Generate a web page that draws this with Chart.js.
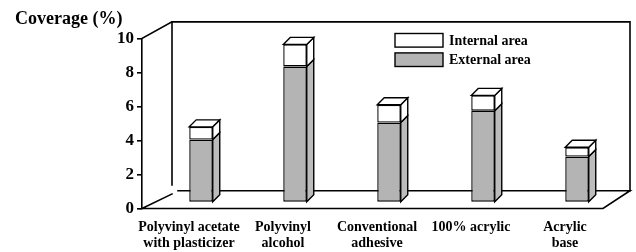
<!DOCTYPE html>
<html><head><meta charset="utf-8">
<style>html,body{margin:0;padding:0;background:#fff}#wrap{width:636px;height:252px;position:relative}</style>
<script src="https://cdn.jsdelivr.net/npm/chart.js@4.4.1/dist/chart.umd.min.js"></script>
</head><body><div id="wrap"><canvas id="c"></canvas></div>
<script>
const categories = [["Polyvinyl acetate","with plasticizer"],["Polyvinyl","alcohol"],["Conventional","adhesive"],["100% acrylic"],["Acrylic","base"]];
const externalArea = [3.7, 8.0, 4.7, 5.4, 2.7];
const internalArea = [0.75, 1.3, 1.05, 0.9, 0.55];
const yTicks = [0, 2, 4, 6, 8, 10];
const seriesNames = ["External area", "Internal area"];

const SERIF = "'Liberation Serif','DejaVu Serif',serif";
const GRAY = '#b4b4b4', GRAY_SIDE = '#bcbcbc', WHITE = '#ffffff';
const DX = 12, DY = -6, D = 7;

Chart.defaults.color = '#000';
Chart.defaults.font.family = SERIF;
Chart.defaults.font.weight = 'bold';

function line(ctx, pts){ ctx.beginPath(); ctx.moveTo(pts[0][0], pts[0][1]); for (let i=1;i<pts.length;i++) ctx.lineTo(pts[i][0], pts[i][1]); ctx.stroke(); }
function poly(ctx, pts, fill){ ctx.beginPath(); ctx.moveTo(pts[0][0], pts[0][1]); for (let i=1;i<pts.length;i++) ctx.lineTo(pts[i][0], pts[i][1]); ctx.closePath(); ctx.fillStyle = fill; ctx.fill(); ctx.stroke(); }

const depthPlugin = {
  id: 'depth3d',
  beforeDatasetsDraw(chart){
    const ctx = chart.ctx, a = chart.chartArea;
    const L = a.left, T = a.top, B = a.bottom, FR = a.right - 9, BR = FR + 27;
    const bT = T - 16.6, bB = B - 17.8;
    ctx.save();
    ctx.strokeStyle = '#000'; ctx.lineWidth = 1.6; ctx.lineCap = 'square';
    line(ctx, [[L, T], [L + 30, bT], [BR, bT], [BR, bB]]);
    line(ctx, [[L + 30, bT], [L + 30, B - 23.5]]);
    line(ctx, [[L + 36, bB], [BR, bB], [FR, B], [L, B], [L + 30, B - 14.5]]);
    ctx.restore();
    ctx.save();
    ctx.translate(DX, DY);
  },
  afterDatasetsDraw(chart){
    const ctx = chart.ctx;
    ctx.strokeStyle = '#000'; ctx.lineWidth = 1.4; ctx.lineJoin = 'miter';
    const n = chart.data.datasets.length;
    for (let d = 0; d < n; d++){
      const meta = chart.getDatasetMeta(d);
      const side = chart.data.datasets[d].sideColor;
      meta.data.forEach(el => {
        const p = el.getProps(['x','y','base','width'], true);
        const l = p.x - p.width/2, r = p.x + p.width/2;
        const top = Math.min(p.y, p.base), bot = Math.max(p.y, p.base);
        poly(ctx, [[r, top], [r + D, top - D], [r + D, bot - D], [r, bot]], side);
        if (d === n - 1) poly(ctx, [[l, top], [l + D, top - D], [r + D, top - D], [r, top]], WHITE);
      });
    }
    ctx.restore();
  },
  afterDraw(chart){
    const ctx = chart.ctx, a = chart.chartArea;
    const x0 = a.left + 253, y0 = a.top - 5;
    ctx.save();
    ctx.strokeStyle = '#000'; ctx.lineWidth = 1.4;
    ctx.font = "bold 14px " + SERIF; ctx.textBaseline = 'middle'; ctx.fillStyle = '#000';
    const ds = chart.data.datasets.slice().reverse();
    ds.forEach((s, i) => {
      const y = y0 + i * 19.4;
      ctx.fillStyle = s.backgroundColor;
      ctx.fillRect(x0, y, 48, 13.6); ctx.strokeRect(x0, y, 48, 13.6);
      ctx.fillStyle = '#000';
      ctx.fillText(s.label, x0 + 54, y + 7.4);
    });
    ctx.restore();
  }
};

new Chart(document.getElementById('c'), {
  type: 'bar',
  data: {
    labels: categories,
    datasets: [
      { label: seriesNames[0], data: externalArea, backgroundColor: GRAY, sideColor: GRAY_SIDE, borderColor: '#000', borderWidth: 1.4, borderSkipped: false },
      { label: seriesNames[1], data: internalArea, backgroundColor: WHITE, sideColor: WHITE, borderColor: '#000', borderWidth: 1.4, borderSkipped: false }
    ]
  },
  options: {
    responsive: true, maintainAspectRatio: false, animation: false,
    layout: { padding: { left: 15, right: 24, top: 0, bottom: 0 } },
    datasets: { bar: { categoryPercentage: 1, barPercentage: 0.25, clip: false } },
    plugins: {
      legend: { display: false },
      tooltip: { enabled: false },
      title: { display: true, text: 'Coverage (%)', align: 'start', font: { size: 18, weight: 'bold', lineHeight: 1.2 }, padding: { top: 8.5, bottom: 8.4 }, color: '#000' }
    },
    scales: {
      x: {
        stacked: true,
        grid: { display: false },
        border: { display: false },
        ticks: { font: { size: 14, weight: 'bold', lineHeight: 1.15 }, padding: 3, maxRotation: 0, autoSkip: false, color: '#000' },
        afterFit(s){ s.height = 43.5; }
      },
      y: {
        stacked: true, min: 0, max: 10,
        afterBuildTicks(s){ s.ticks = yTicks.map(v => ({ value: v })); },
        grid: { drawOnChartArea: false, drawTicks: true, tickLength: 5, color: '#000', lineWidth: 1.6 },
        border: { display: true, color: '#000', width: 1.6 },
        ticks: { font: { size: 17, weight: 'bold' }, padding: 3, color: '#000' },
        afterFit(s){ s.width = 127; }
      }
    }
  },
  plugins: [depthPlugin]
});
</script></body></html>
